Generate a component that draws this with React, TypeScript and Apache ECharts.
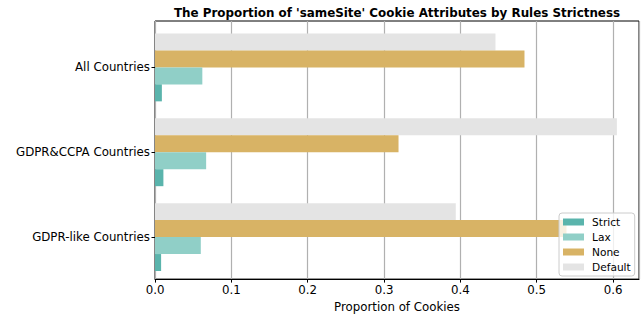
import React, { useEffect, useRef } from "react";
import * as echarts from "echarts";

const categories = ["All Countries", "GDPR&CCPA Countries", "GDPR-like Countries"];
const seriesNames = ["Strict", "Lax", "None", "Default"];
const strictValues = [0.009, 0.011, 0.008];
const laxValues = [0.062, 0.067, 0.060];
const noneValues = [0.484, 0.319, 0.539];
const defaultValues = [0.446, 0.605, 0.394];
const xTicks = [0, 0.1, 0.2, 0.3, 0.4, 0.5, 0.6];

const colors: Record<string, string> = {
  Strict: "#5ab4ac",
  Lax: "#90cfc7",
  None: "#d8b365",
  Default: "#e4e4e4",
};

const FONT = "DejaVu Sans";

export default function App() {
  const ref = useRef<HTMLDivElement>(null);
  useEffect(() => {
    if (!ref.current) return;
    const chart = echarts.init(ref.current, undefined, { renderer: "svg" });
    const valuesByName: Record<string, number[]> = {
      Strict: strictValues,
      Lax: laxValues,
      None: noneValues,
      Default: defaultValues,
    };
    const drawOrder = ["Default", "None", "Lax", "Strict"];
    chart.setOption({
      animation: false,
      backgroundColor: "#ffffff",
      textStyle: { fontFamily: FONT },
      title: {
        text: "The Proportion of 'sameSite' Cookie Attributes by Rules Strictness",
        left: 392,
        textAlign: "center",
        top: 2,
        textStyle: { fontFamily: FONT, fontSize: 11.9, fontWeight: "bold", color: "#000" },
      },
      legend: {
        data: seriesNames,
        orient: "vertical",
        left: 559,
        top: 213,
        padding: [3, 4, 3, 4],
        itemWidth: 21,
        itemHeight: 7,
        itemGap: 3,
        backgroundColor: "rgba(255,255,255,0.8)",
        borderColor: "#cccccc",
        borderWidth: 1,
        borderRadius: 3,
        icon: "rect",
        textStyle: { fontFamily: FONT, fontSize: 10.6, color: "#000", lineHeight: 12, padding: [0, 0, 0, 3] },
      },
      grid: [
        { left: 155, right: 4, top: 21, bottom: 35, show: true, borderColor: "#000", borderWidth: 1, backgroundColor: "transparent" },
        { left: 155, right: 4, top: 25, bottom: 38.5 },
      ],
      xAxis: [
        {
          type: "value",
          gridIndex: 0,
          min: 0,
          max: 0.634,
          interval: 0.1,
          name: "Proportion of Cookies",
          nameLocation: "middle",
          nameGap: 18,
          nameTextStyle: { fontFamily: FONT, fontSize: 11.8, color: "#000" },
          axisLine: { show: true, lineStyle: { color: "#000", width: 1 } },
          axisTick: { show: true, length: 3.5, lineStyle: { color: "#000" } },
          axisLabel: {
            margin: 5,
            fontFamily: FONT,
            fontSize: 11.8,
            color: "#000",
            showMaxLabel: false,
            formatter: (v: number) => (xTicks.some((t) => Math.abs(t - v) < 1e-9) ? v.toFixed(1) : ""),
          },
          splitLine: { show: true, lineStyle: { color: "#b0b0b0", width: 1.2 } },
        },
        {
          type: "value",
          gridIndex: 1,
          min: 0,
          max: 0.634,
          show: false,
        },
      ],
      yAxis: [
        { type: "value", gridIndex: 0, min: 0, max: 1, show: false },
        {
          type: "category",
          gridIndex: 1,
          data: categories,
          inverse: true,
          axisLine: { show: false },
          axisTick: { show: true, alignWithLabel: true, length: 3.5, lineStyle: { color: "#000" } },
          axisLabel: { margin: 5, fontFamily: FONT, fontSize: 11.8, color: "#000" },
          splitLine: { show: false },
        },
      ],
      series: drawOrder.map((name) => ({
        name,
        type: "bar",
        xAxisIndex: 1,
        yAxisIndex: 1,
        data: valuesByName[name],
        barGap: "0%",
        barCategoryGap: "20%",
        itemStyle: { color: colors[name] },
      })),
    });
    return () => chart.dispose();
  }, []);
  return <div ref={ref} style={{ position: "fixed", left: 0, top: 0, width: 643, height: 318 }} />;
}
